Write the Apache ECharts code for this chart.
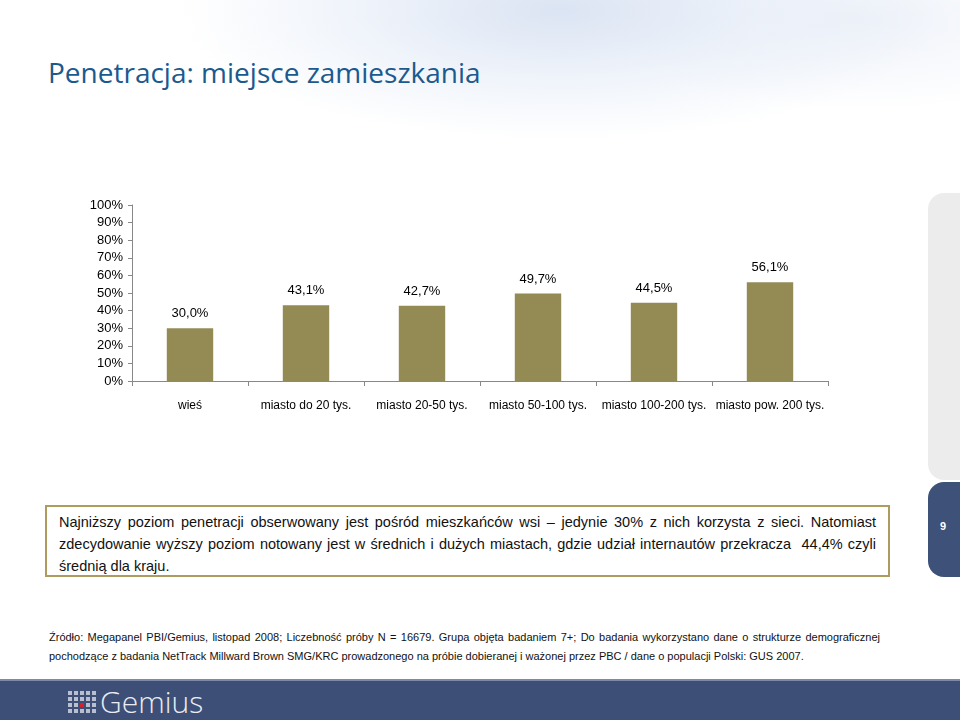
<!DOCTYPE html>
<html>
<head>
<meta charset="utf-8">
<script src="https://cdn.jsdelivr.net/npm/echarts@6/dist/echarts.min.js"></script>
<style>
  body{margin:0;width:960px;height:720px;overflow:hidden;position:relative;background:#fff;
    font-family:"Liberation Sans",Arial,sans-serif;}
  .wash{position:absolute;left:0;top:0;width:960px;height:200px;
    background:radial-gradient(ellipse 380px 130px at 560px 10px,#dbe4f3 0%,rgba(230,237,248,0.6) 55%,rgba(255,255,255,0) 100%),
               radial-gradient(ellipse 260px 90px at 860px 20px,#eef2f9 0%,rgba(255,255,255,0) 100%);}
  .title{position:absolute;left:48px;top:53px;font-family:"Open Sans","Noto Sans",sans-serif;
    font-size:28px;color:#1b5a8e;white-space:nowrap;}
  #chart{position:absolute;left:0;top:180px;width:960px;height:250px;}
  .side{position:absolute;left:928px;top:193px;width:60px;height:287px;background:#ececec;border-radius:16px;}
  .tab{position:absolute;left:928px;top:482px;width:60px;height:95px;background:#3d5179;border-radius:16px;}
  .tab span{position:absolute;left:12px;top:38px;color:#fff;font-weight:bold;font-size:11px;}
  .box{position:absolute;left:45px;top:505px;width:817px;height:64px;padding:4px 12px 0 12px;
    border:2px solid #ad9c5e;font-family:"Liberation Sans",sans-serif;
    font-size:14.5px;line-height:22px;color:#111;}
  .j{text-align:justify;text-align-last:justify;white-space:nowrap;}
  .note{position:absolute;left:49px;top:628px;width:831px;font-family:"Liberation Sans",sans-serif;
    font-size:11px;line-height:19px;color:#111;}
  .band{position:absolute;left:0;top:679px;width:960px;height:41px;background:#3d4f77;border-top:2px solid #7c8aa8;}
  .logo{position:absolute;left:68px;top:10px;width:30px;height:22px;}
  .logo i{position:absolute;width:4px;height:4px;background:#b7bfd0;}
  .brand{position:absolute;left:100px;top:0px;color:#e9edf3;font-family:"Open Sans","Noto Sans",sans-serif;font-size:30px;font-weight:300;}
</style>
</head>
<body>
<div class="wash"></div>
<div class="title">Penetracja: miejsce zamieszkania</div>
<div id="chart"></div>
<div class="side"></div>
<div class="tab"><span>9</span></div>
<div class="box">
  <div class="j">Najniższy poziom penetracji obserwowany jest pośród mieszkańców wsi – jedynie 30% z nich korzysta z sieci. Natomiast</div>
  <div class="j">zdecydowanie wyższy poziom notowany jest w średnich i dużych miastach, gdzie udział internautów przekracza&nbsp; 44,4% czyli</div>
  <div>średnią dla kraju.</div>
</div>
<div class="note">
  <div class="j">Źródło: Megapanel PBI/Gemius, listopad 2008; Liczebność próby N = 16679. Grupa objęta badaniem 7+; Do badania wykorzystano dane o strukturze demograficznej</div>
  <div>pochodzące z badania NetTrack Millward Brown SMG/KRC prowadzonego na próbie dobieranej i ważonej przez PBC / dane o populacji Polski: GUS 2007.</div>
</div>
<div class="band">
  <div class="logo" id="logo"></div>
  <div class="brand">Gemius</div>
</div>
<script>
// logo dots
var logo = document.getElementById('logo');
for (var r = 0; r < 4; r++) {
  for (var c = 0; c < 5; c++) {
    var d = document.createElement('i');
    d.style.left = (c * 6) + 'px';
    d.style.top = (r * 6) + 'px';
    if (r == 2 && c == 2) d.style.background = '#d8202a';
    logo.appendChild(d);
  }
}

var categories = ['wieś', 'miasto do 20 tys.', 'miasto 20-50 tys.', 'miasto 50-100 tys.', 'miasto 100-200 tys.', 'miasto pow. 200 tys.'];
var penetration = [30.0, 43.1, 42.7, 49.7, 44.5, 56.1];

var myChart = echarts.init(document.getElementById('chart'));
myChart.setOption({
  animation: false,
  grid: { left: 132, right: 132, top: 25, bottom: 49 },
  xAxis: {
    type: 'category',
    data: categories,
    axisLine: { lineStyle: { color: '#888888' } },
    axisTick: { show: true, length: 5, lineStyle: { color: '#888888' } },
    axisLabel: { color: '#000', fontSize: 12, margin: 19, fontFamily: 'Liberation Sans', interval: 0 }
  },
  yAxis: {
    type: 'value',
    min: 0,
    max: 100,
    interval: 10,
    axisLine: { show: true, lineStyle: { color: '#888888' } },
    axisTick: { show: true, length: 4, lineStyle: { color: '#888888' } },
    splitLine: { show: false },
    axisLabel: { color: '#000', fontSize: 13, margin: 9, fontFamily: 'Liberation Sans', formatter: '{value}%' }
  },
  series: [{
    type: 'bar',
    data: penetration,
    barWidth: '40%',
    itemStyle: { color: '#948a54' },
    label: {
      show: true,
      position: 'top',
      distance: 8,
      color: '#000',
      fontSize: 13,
      fontFamily: 'Liberation Sans',
      formatter: function (p) { return p.value.toFixed(1).replace('.', ',') + '%'; }
    }
  }]
});
</script>
</body>
</html>
